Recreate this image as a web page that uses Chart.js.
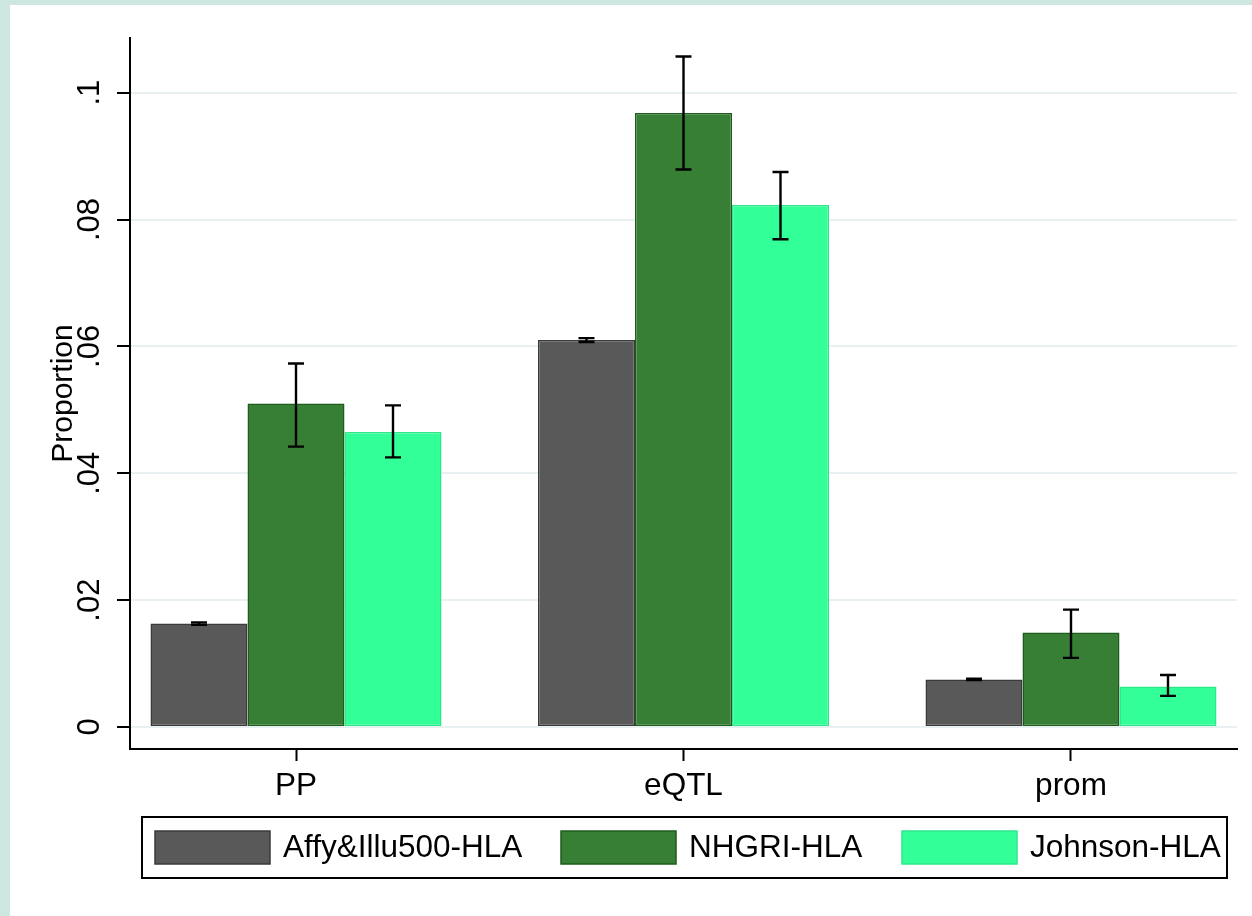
<!DOCTYPE html>
<html>
<head>
<meta charset="utf-8">
<script src="https://cdn.jsdelivr.net/npm/chart.js@4.4.1/dist/chart.umd.min.js"></script>
<style>
  html, body { margin: 0; padding: 0; background: #cde6e0; }
  #frame { position: absolute; left: 10px; top: 5px; width: 1242px; height: 911px; background: #ffffff; }
  canvas { display: block; }
</style>
</head>
<body>
<div id="frame"><canvas id="chart" width="1242" height="911"></canvas></div>
<script>
// Annotation categories on the x axis
const categories = ['PP', 'eQTL', 'prom'];
const categoryPositions = [1, 2, 3];

// Series names
const seriesNames = ['Affy&Illu500-HLA', 'NHGRI-HLA', 'Johnson-HLA'];

// Proportions with confidence limits, one array per series
const affyValues = [0.0163, 0.0610, 0.0075];
const affyLow    = [0.0161, 0.0607, 0.0074];
const affyHigh   = [0.0165, 0.0613, 0.0076];

const nhgriValues = [0.0510, 0.0968, 0.0149];
const nhgriLow    = [0.0442, 0.0879, 0.0109];
const nhgriHigh   = [0.0573, 0.1057, 0.0185];

const johnsonValues = [0.0465, 0.0823, 0.0064];
const johnsonLow    = [0.0425, 0.0769, 0.0049];
const johnsonHigh   = [0.0507, 0.0875, 0.0082];

// Value axis ticks
const yTickValues = [0, 0.02, 0.04, 0.06, 0.08, 0.1];
const yTickLabels = ['0', '.02', '.04', '.06', '.08', '.1'];

const FONT = 'Liberation Sans, Arial, Helvetica, sans-serif';
const fillColors   = ['#595959', '#367f34', '#33ff99'];
const borderColors = ['#3a3a3a', '#1d5c1c', '#2ce88a'];

function toPoints(values) {
  return values.map((v, i) => ({ x: categoryPositions[i], y: v }));
}

const datasets = [
  { label: seriesNames[0], data: toPoints(affyValues),    errLow: affyLow,    errHigh: affyHigh },
  { label: seriesNames[1], data: toPoints(nhgriValues),   errLow: nhgriLow,   errHigh: nhgriHigh },
  { label: seriesNames[2], data: toPoints(johnsonValues), errLow: johnsonLow, errHigh: johnsonHigh }
].map((ds, i) => Object.assign(ds, {
  backgroundColor: fillColors[i],
  borderColor: borderColors[i],
  borderWidth: 1.5,
  borderSkipped: false,
  categoryPercentage: 0.751,
  barPercentage: 1.0
}));

// Capped error bars drawn over each bar
const errorBars = {
  id: 'errorBars',
  afterDatasetsDraw(chart) {
    const ctx = chart.ctx;
    const yScale = chart.scales.y;
    const cap = 8;
    chart.data.datasets.forEach((ds, di) => {
      const meta = chart.getDatasetMeta(di);
      meta.data.forEach((bar, i) => {
        const top = yScale.getPixelForValue(ds.errHigh[i]);
        const bottom = yScale.getPixelForValue(ds.errLow[i]);
        ctx.save();
        ctx.strokeStyle = '#000000';
        ctx.lineWidth = 2.4;
        ctx.beginPath();
        ctx.moveTo(bar.x, top); ctx.lineTo(bar.x, bottom);
        ctx.moveTo(bar.x - cap, top); ctx.lineTo(bar.x + cap, top);
        ctx.moveTo(bar.x - cap, bottom); ctx.lineTo(bar.x + cap, bottom);
        ctx.stroke();
        ctx.restore();
      });
    });
  }
};

// Boxed legend below the x axis
const boxedLegend = {
  id: 'boxedLegend',
  afterDraw(chart) {
    const ctx = chart.ctx;
    const area = chart.chartArea;
    const left = area.left + 12;
    const right = area.right - 10;
    const top = area.bottom + 68;
    const height = 61;
    const itemOffsets = [13, 419, 760];
    const swW = 115, swH = 33, swTop = 14;
    ctx.save();
    ctx.strokeStyle = '#000000';
    ctx.lineWidth = 2;
    ctx.strokeRect(left, top, right - left, height);
    ctx.font = '31.5px ' + FONT;
    ctx.textBaseline = 'middle';
    ctx.textAlign = 'left';
    chart.data.datasets.forEach((ds, i) => {
      const x = left + itemOffsets[i];
      ctx.fillStyle = ds.backgroundColor;
      ctx.fillRect(x, top + swTop, swW, swH);
      ctx.strokeStyle = ds.borderColor;
      ctx.lineWidth = 1.5;
      ctx.strokeRect(x, top + swTop, swW, swH);
      ctx.fillStyle = '#000000';
      ctx.fillText(ds.label, x + swW + 13, top + swTop + swH / 2 + 1);
    });
    ctx.restore();
  }
};

new Chart(document.getElementById('chart'), {
  type: 'bar',
  data: { datasets },
  plugins: [errorBars, boxedLegend],
  options: {
    responsive: false,
    animation: false,
    devicePixelRatio: 1,
    layout: { padding: { left: 0, right: 15, top: 33, bottom: 107 } },
    plugins: {
      legend: { display: false },
      tooltip: { enabled: false }
    },
    scales: {
      x: {
        type: 'linear',
        min: 0.5716,
        max: 3.4284,
        offset: false,
        afterBuildTicks: scale => { scale.ticks = categoryPositions.map(v => ({ value: v })); },
        afterFit: scale => { scale.height = 60; },
        ticks: {
          autoSkip: false,
          maxRotation: 0,
          padding: 6,
          color: '#000000',
          font: { family: FONT, size: 31.5 },
          callback: value => categories[categoryPositions.indexOf(value)]
        },
        grid: {
          offset: false,
          drawOnChartArea: false,
          drawTicks: true,
          tickLength: 12,
          tickWidth: 2,
          tickColor: '#000000'
        },
        border: { display: true, color: '#000000', width: 2 }
      },
      y: {
        type: 'linear',
        min: -0.003468,
        max: 0.10862,
        afterBuildTicks: scale => { scale.ticks = yTickValues.map(v => ({ value: v })); },
        afterFit: scale => { scale.width = 120; },
        ticks: {
          autoSkip: false,
          minRotation: 90,
          maxRotation: 90,
          crossAlign: 'center',
          padding: 5,
          color: '#000000',
          font: { family: FONT, size: 31 },
          callback: value => yTickLabels[yTickValues.indexOf(value)]
        },
        grid: {
          color: '#e8f0f2',
          lineWidth: 2,
          drawTicks: true,
          tickLength: 13,
          tickWidth: 2,
          tickColor: '#000000'
        },
        border: { display: true, color: '#000000', width: 2 },
        title: {
          display: true,
          text: 'Proportion',
          color: '#000000',
          font: { family: FONT, size: 30 },
          padding: { top: 36, bottom: 0 }
        }
      }
    }
  }
});
</script>
</body>
</html>
